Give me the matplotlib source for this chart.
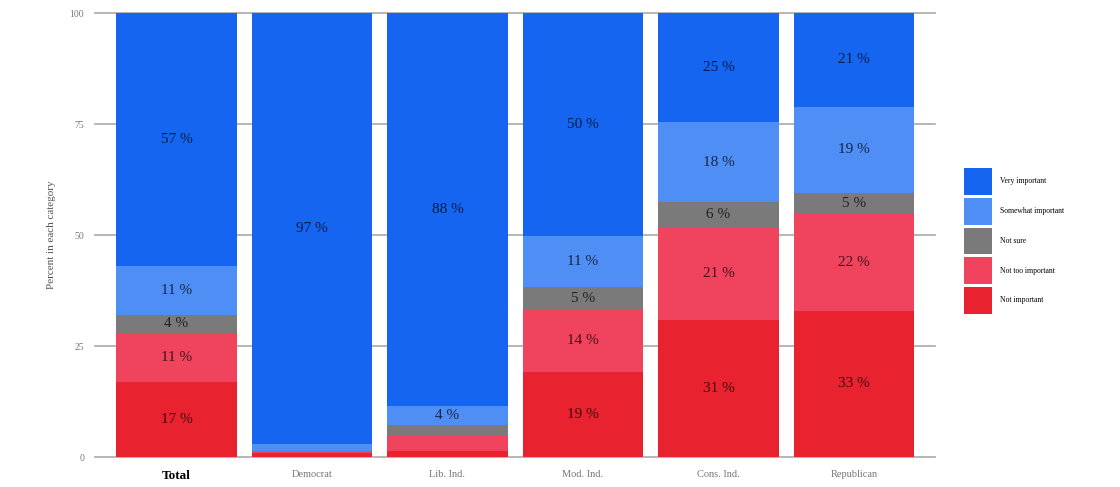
import numpy as np
import matplotlib
matplotlib.use("Agg")
import matplotlib.pyplot as plt
from matplotlib.patches import Patch

groups = ["Total", "Democrat", "Lib. Ind.", "Mod. Ind.", "Cons. Ind.", "Republican"]
responses = ["Very important", "Somewhat important", "Not sure", "Not too important", "Not important"]

# percentages per group, bottom of the stack first
not_important = [17.0, 0.8, 1.3, 19.1, 30.8, 32.9]
not_too_important = [11.0, 0.5, 3.4, 14.2, 20.9, 21.8]
not_sure = [4.0, 0.0, 2.5, 5.0, 5.8, 4.8]
somewhat_important = [11.0, 1.7, 4.4, 11.4, 17.9, 19.4]
very_important = [57.0, 97.0, 88.4, 50.3, 24.6, 21.1]

colors = {
    "Very important": "#1565f0",
    "Somewhat important": "#4f8ef5",
    "Not sure": "#7a7a7a",
    "Not too important": "#f0435e",
    "Not important": "#e8232f",
}

stack = [
    ("Not important", not_important),
    ("Not too important", not_too_important),
    ("Not sure", not_sure),
    ("Somewhat important", somewhat_important),
    ("Very important", very_important),
]

plt.rcParams["font.family"] = ["Liberation Serif", "DejaVu Serif"]

fig = plt.figure(figsize=(11.2, 4.87), dpi=100)
ax = fig.add_axes([0.085, 0.0616, 0.75, 0.9114])

x = np.arange(len(groups))
bottom = np.zeros(len(groups))
for name, vals in stack:
    vals = np.array(vals)
    ax.bar(x, vals, bottom=bottom, width=0.89, color=colors[name], zorder=2)
    for xi, b, v in zip(x, bottom, vals):
        if round(v) >= 4:
            ax.text(xi, b + v / 2, f"{round(v)} %", ha="center", va="center",
                    fontsize=11, color="black", alpha=0.72, zorder=3)
    bottom += vals

ax.set_xlim(-0.6, 5.6)
ax.set_ylim(0, 100)
ax.set_yticks([0, 25, 50, 75, 100])
ax.tick_params(axis="y", length=0, pad=8, labelsize=7, labelcolor="#777777")
ax.tick_params(axis="x", length=0, pad=9, labelsize=7.5, labelcolor="#777777")
ax.set_xticks(x)
ax.set_xticklabels(groups)
tl = ax.get_xticklabels()[0]
tl.set_fontweight("bold")
tl.set_color("black")
tl.set_fontsize(9.5)
ax.yaxis.grid(True, color="#aaaaaa", linewidth=1.2, zorder=0)
for gl in ax.get_ygridlines():
    gl.set_clip_on(False)
ax.set_axisbelow(True)
for s in ax.spines.values():
    s.set_visible(False)
ax.set_ylabel("Percent in each category", fontsize=8, color="#555555", labelpad=10)

handles = [Patch(facecolor=colors[r], edgecolor="none") for r in responses]
leg = fig.legend(handles, responses, loc="center left", bbox_to_anchor=(0.855, 0.505),
                 frameon=False, fontsize=5.5, handlelength=3.6, handleheight=5.0,
                 labelspacing=0.4, handletextpad=1.0)

fig.savefig("out.png", dpi=100)
